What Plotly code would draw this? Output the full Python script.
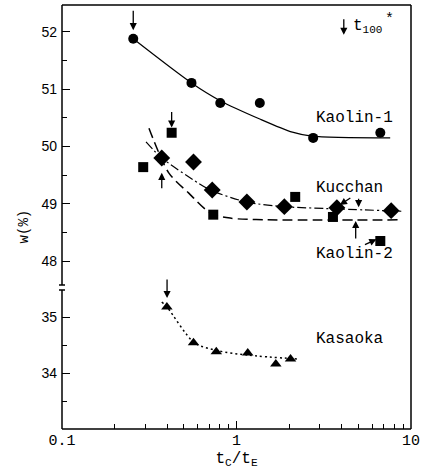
import math
import plotly.graph_objects as go

# ---- measured data: water content w (%) vs t_C / t_E ----
kaolin1_x = [0.256, 0.552, 0.807, 1.36, 2.75, 6.67]
kaolin1_w = [51.88, 51.11, 50.76, 50.76, 50.15, 50.24]

kucchan_x = [0.373, 0.567, 0.726, 1.147, 1.88, 3.76, 7.7]
kucchan_w = [49.80, 49.73, 49.24, 49.03, 48.95, 48.93, 48.88]

kaolin2_x = [0.292, 0.425, 0.736, 2.17, 3.57, 6.67]
kaolin2_w = [49.64, 50.24, 48.81, 49.12, 48.77, 48.35]

kasaoka_x = [0.399, 0.567, 0.766, 1.16, 1.68, 2.04]
kasaoka_w = [35.18, 34.54, 34.38, 34.36, 34.16, 34.25]

# ---- fitted trend curves (control points) ----
kaolin1_fit_x = [0.256, 0.552, 0.807, 1.36, 2.09, 2.7, 7.6]
kaolin1_fit_w = [51.88, 51.11, 50.80, 50.48, 50.25, 50.18, 50.15]

kucchan_fit_x = [0.303, 0.373, 0.605, 0.72, 1.15, 1.88, 3.8, 8.8]
kucchan_fit_w = [50.08, 49.80, 49.36, 49.23, 49.03, 48.95, 48.91, 48.87]

kaolin2_fit_x = [0.315, 0.409, 0.531, 0.708, 0.92, 1.5, 8.8]
kaolin2_fit_w = [50.32, 49.54, 49.19, 48.84, 48.75, 48.72, 48.72]

kasaoka_fit_x = [0.373, 0.404, 0.574, 0.78, 1.16, 2.3]
kasaoka_fit_w = [35.27, 35.16, 34.54, 34.40, 34.32, 34.25]

# t100* positions (arrow tips)
t100_kaolin1 = (0.256, 52.03)
t100_kaolin2 = (0.425, 50.33)
t100_kucchan = (0.373, 49.54)
t100_kasaoka = (0.40, 35.34)

x_ticks = [0.1, 1, 10]
x_ticktext = ["0.1", "1", "10"]
x_minor = [0.2, 0.3, 0.4, 0.5, 0.6, 0.7, 0.8, 0.9, 2, 3, 4, 5, 6, 7, 8, 9]
upper_ticks = [48, 49, 50, 51, 52]
upper_minor = [48.5, 49.5, 50.5, 51.5]
lower_ticks = [34, 35]
lower_minor = [33.5, 34.5]

MONO = "Liberation Mono"
SANS = "Liberation Sans"
BLACK = "black"

fig = go.Figure()

# curves
fig.add_trace(go.Scatter(x=kaolin1_fit_x, y=kaolin1_fit_w, yaxis="y2", mode="lines",
                         line=dict(color=BLACK, width=1.2, shape="spline", smoothing=0.8),
                         hoverinfo="skip"))
fig.add_trace(go.Scatter(x=kucchan_fit_x, y=kucchan_fit_w, yaxis="y2", mode="lines",
                         line=dict(color=BLACK, width=1.2, shape="spline", smoothing=0.8,
                                   dash="9px,3px,2px,3px"),
                         hoverinfo="skip"))
fig.add_trace(go.Scatter(x=kaolin2_fit_x, y=kaolin2_fit_w, yaxis="y2", mode="lines",
                         line=dict(color=BLACK, width=1.5, shape="spline", smoothing=0.8,
                                   dash="10px,5px"),
                         hoverinfo="skip"))
fig.add_trace(go.Scatter(x=kasaoka_fit_x, y=kasaoka_fit_w, yaxis="y", mode="lines",
                         line=dict(color=BLACK, width=1.5, shape="spline", smoothing=0.8,
                                   dash="2px,3px"),
                         hoverinfo="skip"))

# markers
fig.add_trace(go.Scatter(x=kaolin1_x, y=kaolin1_w, yaxis="y2", mode="markers",
                         marker=dict(symbol="circle", size=10, color=BLACK)))
fig.add_trace(go.Scatter(x=kucchan_x, y=kucchan_w, yaxis="y2", mode="markers",
                         marker=dict(symbol="diamond", size=13, color=BLACK)))
fig.add_trace(go.Scatter(x=kaolin2_x, y=kaolin2_w, yaxis="y2", mode="markers",
                         marker=dict(symbol="square", size=10, color=BLACK)))
fig.add_trace(go.Scatter(x=kasaoka_x, y=kasaoka_w, yaxis="y", mode="markers",
                         marker=dict(symbol="triangle-up", size=10, color=BLACK)))

annotations = []


def arrow(x, y, yref, ax, ay):
    # annotation x on a log axis is given in log10 units
    annotations.append(dict(x=math.log10(x), y=y, xref="x", yref=yref, text="",
                            showarrow=True, ax=ax, ay=ay, arrowhead=2, arrowsize=1.1,
                            arrowwidth=1.3, arrowcolor=BLACK, standoff=0))


def label(text, x, y, yref, size=16):
    annotations.append(dict(x=math.log10(x), y=y, xref="x", yref=yref, text=text,
                            showarrow=False, xanchor="left", yanchor="middle",
                            font=dict(family=MONO, size=size, color=BLACK)))


# t100* markers
arrow(*t100_kaolin1, "y2", 0, -21)
arrow(*t100_kaolin2, "y2", 0, -17)
arrow(*t100_kucchan, "y2", 0, 17)
arrow(*t100_kasaoka, "y", 0, -20)

# key for the t100* arrow
arrow(4.12, 51.95, "y2", 0, -17)
label("t<sub><span style='font-size:11px'>100</span></sub>", 4.55, 52.1, "y2", size=16)
label("*", 6.95, 52.22, "y2", size=15)

# sample names with leaders
label("Kaolin-1", 2.79, 50.50, "y2")
label("Kucchan", 2.79, 49.28, "y2")
label("Kaolin-2", 2.79, 48.12, "y2")
label("Kasaoka", 2.79, 34.61, "y")
arrow(3.91, 48.98, "y2", 12, -8)
arrow(5.01, 48.94, "y2", 0, -10)
arrow(4.82, 48.70, "y2", 0, 19)
arrow(6.34, 48.38, "y2", -13, 6)

# axis titles
annotations.append(dict(x=-0.139, y=0.479, xref="paper", yref="paper", text="w(%)",
                        textangle=-90, showarrow=False,
                        font=dict(family=MONO, size=14, color=BLACK)))

# frame and broken left axis (paper coordinates)
plot_top, plot_bottom, plot_h = 5, 429, 424


def py(p):
    return (plot_bottom - p) / plot_h


line = dict(color=BLACK, width=1.5)
shapes = [
    dict(type="line", xref="paper", yref="paper", x0=0, x1=1, y0=1, y1=1, line=line),
    dict(type="line", xref="paper", yref="paper", x0=1, x1=1, y0=0, y1=1, line=line),
    dict(type="line", xref="paper", yref="paper", x0=0, x1=1, y0=0, y1=0, line=line),
    dict(type="line", xref="paper", yref="paper", x0=0, x1=0, y0=0, y1=py(290), line=line),
    dict(type="line", xref="paper", yref="paper", x0=0, x1=0, y0=py(285), y1=1, line=line),
    dict(type="line", xref="paper", yref="paper", xsizemode="pixel", xanchor=0,
         x0=-3, x1=3, y0=py(290), y1=py(290), line=line),
    dict(type="line", xref="paper", yref="paper", xsizemode="pixel", xanchor=0,
         x0=-3, x1=3, y0=py(285), y1=py(285), line=line),
]

split = (plot_bottom - 288) / plot_h

tickfont_y = dict(family=SANS, size=14, color=BLACK)
fig.update_layout(
    width=425, height=471,
    margin=dict(l=62, r=10, t=5, b=42),
    paper_bgcolor="white", plot_bgcolor="white",
    showlegend=False,
    xaxis=dict(type="log", range=[-1, 1], tickvals=x_ticks, ticktext=x_ticktext,
               ticks="inside", ticklen=8, tickwidth=1.3, tickcolor=BLACK,
               minor=dict(tickvals=x_minor, ticks="inside", ticklen=5, tickwidth=1.2,
                          tickcolor=BLACK, showgrid=False),
               showgrid=False, zeroline=False, showline=False,
               tickfont=dict(family=MONO, size=15, color=BLACK),
               title=dict(text="t<sub>C</sub>/t<sub>E</sub>", standoff=2,
                          font=dict(family=MONO, size=16, color=BLACK))),
    yaxis=dict(domain=[0, split], range=[33.0, 35.52], tickvals=lower_ticks,
               ticks="inside", ticklen=8, tickwidth=1.3, tickcolor=BLACK,
               minor=dict(tickvals=lower_minor, ticks="inside", ticklen=5, tickwidth=1.2,
                          tickcolor=BLACK, showgrid=False),
               showgrid=False, zeroline=False, showline=False, tickfont=tickfont_y,
               ticklabelstandoff=4),
    yaxis2=dict(domain=[split, 1], range=[47.53, 52.47], tickvals=upper_ticks,
                anchor="x",
                ticks="inside", ticklen=8, tickwidth=1.3, tickcolor=BLACK,
                minor=dict(tickvals=upper_minor, ticks="inside", ticklen=5, tickwidth=1.2,
                           tickcolor=BLACK, showgrid=False),
                showgrid=False, zeroline=False, showline=False, tickfont=tickfont_y,
                ticklabelstandoff=4),
    annotations=annotations,
    shapes=shapes,
)

fig.write_html("out.html")
